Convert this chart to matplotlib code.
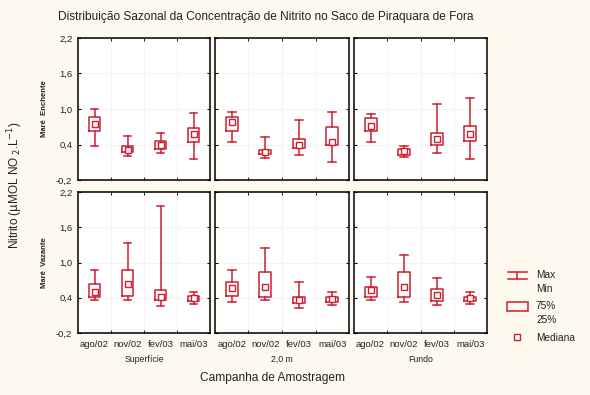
import matplotlib.pyplot as plt
from matplotlib.lines import Line2D
from matplotlib.patches import Rectangle

plt.rcParams["font.family"] = ["Liberation Sans", "DejaVu Sans"]

months = ["ago/02", "nov/02", "fev/03", "mai/03"]
depths = ["Superfície", "2,0 m", "Fundo"]
tides = ["Maré  Enchente", "Maré  Vazante"]
yticks = [-0.2, 0.4, 1.0, 1.6, 2.2]
ytick_labels = ["-0,2", "0,4", "1,0", "1,6", "2,2"]

# stats per [tide][depth][month]
v_max = [
    [[1.00, 0.54, 0.60, 0.94], [0.95, 0.52, 0.81, 0.95], [0.91, 0.37, 1.08, 1.18]],
    [[0.87, 1.34, 1.97, 0.50], [0.88, 1.24, 0.67, 0.50], [0.76, 1.13, 0.73, 0.50]],
]
v_q3 = [
    [[0.87, 0.38, 0.46, 0.68], [0.87, 0.31, 0.49, 0.70], [0.85, 0.33, 0.60, 0.71]],
    [[0.64, 0.87, 0.53, 0.43], [0.67, 0.84, 0.42, 0.42], [0.59, 0.84, 0.55, 0.42]],
]
v_med = [
    [[0.75, 0.31, 0.39, 0.57], [0.78, 0.27, 0.40, 0.45], [0.71, 0.29, 0.49, 0.57]],
    [[0.50, 0.63, 0.41, 0.39], [0.56, 0.58, 0.37, 0.38], [0.53, 0.59, 0.45, 0.39]],
]
v_q1 = [
    [[0.63, 0.27, 0.32, 0.44], [0.63, 0.24, 0.34, 0.39], [0.62, 0.22, 0.40, 0.46]],
    [[0.42, 0.43, 0.37, 0.35], [0.43, 0.42, 0.31, 0.33], [0.42, 0.42, 0.35, 0.35]],
]
v_min = [
    [[0.37, 0.20, 0.25, 0.15], [0.45, 0.18, 0.23, 0.11], [0.45, 0.19, 0.25, 0.15]],
    [[0.36, 0.36, 0.26, 0.29], [0.32, 0.36, 0.22, 0.28], [0.36, 0.32, 0.28, 0.29]],
]

RED = "#cc1f2f"
TXT = "#222222"
W, H = 590, 395
fig = plt.figure(figsize=(W / 100, H / 100), dpi=100, facecolor="#fdf9ef")

col_x = [(78, 210), (215, 349), (354, 487)]
row_y = [(38, 180), (192, 333)]
pos = range(len(months))

for r in range(2):
    for c in range(3):
        x0, x1 = col_x[c]
        y0, y1 = row_y[r]
        ax = fig.add_axes([x0 / W, 1 - y1 / H, (x1 - x0) / W, (y1 - y0) / H])
        stats = [dict(med=v_med[r][c][i], q1=v_q1[r][c][i], q3=v_q3[r][c][i],
                      whislo=v_min[r][c][i], whishi=v_max[r][c][i])
                 for i in pos]
        ax.bxp(stats, positions=list(pos), widths=0.36, capwidths=0.24,
               showfliers=False, patch_artist=False,
               boxprops=dict(color=RED, lw=1.1),
               whiskerprops=dict(color=RED, lw=1.1),
               capprops=dict(color=RED, lw=1.1),
               medianprops=dict(lw=0))
        ax.plot(list(pos), v_med[r][c], ls="none", marker="s", ms=4.8,
                mfc="white", mec=RED, mew=1.0, zorder=5)
        ax.set_xlim(-0.5, 3.5)
        ax.set_ylim(-0.2, 2.2)
        ax.set_yticks(yticks)
        ax.set_xticks(list(pos))
        ax.set_xticks([0.5, 1.5, 2.5], minor=True)
        ax.grid(True, which="minor", axis="x", color="#f2f2f2", lw=0.6)
        ax.grid(True, which="major", axis="y", color="#f2f2f2", lw=0.6)
        ax.tick_params(axis="y", direction="in", length=2.5, left=True, right=True,
                       labelsize=6.8, pad=4, labelcolor=TXT)
        ax.tick_params(axis="x", which="major", length=0, labelsize=6.8, pad=5,
                       labelcolor=TXT)
        ax.tick_params(axis="x", which="minor", direction="in", length=2.5,
                       top=True, bottom=True)
        for s in ax.spines.values():
            s.set_linewidth(1.1)
        if c == 0:
            ax.set_yticklabels(ytick_labels)
            ax.set_ylabel(tides[r], fontsize=5.5, fontweight="bold", labelpad=6,
                          color=TXT)
        else:
            ax.set_yticklabels([])
        if r == 1:
            ax.set_xticklabels(months)
            ax.set_xlabel(depths[c], fontsize=6.3, labelpad=4, color=TXT)
        else:
            ax.set_xticklabels([])

fig.text(58 / W, 1 - 17 / H, "Distribuição Sazonal da Concentração de Nitrito no Saco de Piraquara de Fora",
         fontsize=8.6, ha="left", va="center", color=TXT)
fig.text(15 / W, 1 - 185 / H, r"Nitrito ($\mathrm{\mu}$MOL NO$_{\ 2}$.L$^{-1}$)",
         rotation=90, fontsize=8.5, ha="center", va="center", color=TXT)
fig.text(272 / W, 1 - 378 / H, "Campanha de Amostragem", fontsize=8.6,
         ha="center", va="center", color=TXT)

# legend
lg = fig.add_axes([0, 0, 1, 1], facecolor="none")
lg.set_xlim(0, W)
lg.set_ylim(H, 0)
lg.axis("off")
lg.add_line(Line2D([517, 517], [272, 279], color=RED, lw=1.1))
lg.add_line(Line2D([508, 527], [272, 272], color=RED, lw=1.1))
lg.add_line(Line2D([508, 527], [279, 279], color=RED, lw=1.1))
lg.add_patch(Rectangle((507, 302), 21, 9, fill=False, ec=RED, lw=1.1))
lg.plot([517], [337], ls="none", marker="s", ms=4.8, mfc="white", mec=RED, mew=1.0)
for txt, yy in [("Max", 275), ("Min", 289), ("75%", 306), ("25%", 320), ("Mediana", 338)]:
    lg.text(536, yy, txt, fontsize=7.3, ha="left", va="center", color=TXT)

fig.savefig("out.png", dpi=100, facecolor=fig.get_facecolor())
